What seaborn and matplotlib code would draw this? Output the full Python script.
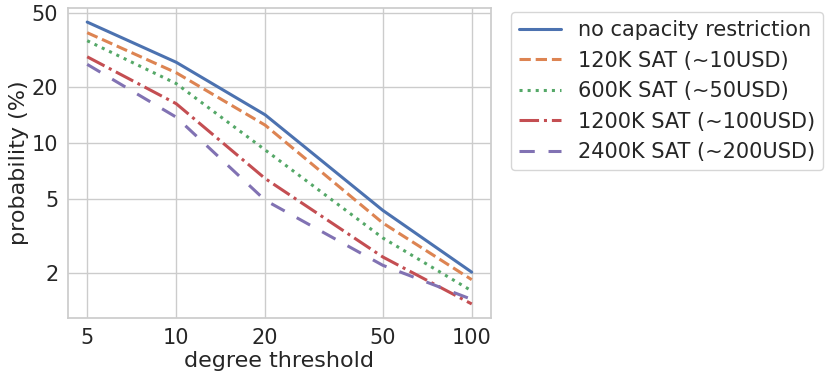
import pandas as pd
import seaborn as sns
import matplotlib.pyplot as plt
from matplotlib.ticker import FixedLocator, NullLocator, FixedFormatter, NullFormatter


# data
thresholds = [5, 10, 20, 50, 100]
no_restriction = [44.7, 27.2, 14.2, 4.36, 2.03]
sat_120k = [39.2, 23.9, 12.5, 3.73, 1.85]
sat_600k = [35.5, 20.9, 9.2, 3.10, 1.61]
sat_1200k = [29.1, 16.3, 6.46, 2.45, 1.37]
sat_2400k = [26.5, 13.8, 4.94, 2.21, 1.45]

labels = [
    "no capacity restriction",
    "120K SAT (~10USD)",
    "600K SAT (~50USD)",
    "1200K SAT (~100USD)",
    "2400K SAT (~200USD)",
]
series = [no_restriction, sat_120k, sat_600k, sat_1200k, sat_2400k]

y_ticks = [2, 5, 10, 20, 50]

# esthetics
sns.set_theme(style="whitegrid", palette="deep")
plt.rcParams["font.family"] = ["DejaVu Sans"]
tick_size = 15
label_size = 16
legend_size = 15

line_dashes = {
    labels[0]: "",
    labels[1]: (3.7, 1.6),
    labels[2]: (1, 1.65),
    labels[3]: (6.4, 1.6, 1, 1.6),
    labels[4]: (5, 4.5),
}

df = pd.DataFrame(
    [(t, v, lab) for lab, vals in zip(labels, series) for t, v in zip(thresholds, vals)],
    columns=["degree threshold", "probability (%)", "Restriction"],
)

fig = plt.figure(figsize=(8.31, 3.8), dpi=100)
ax = fig.add_axes([0.0818, 0.163, 0.509, 0.816])

sns.lineplot(
    data=df,
    x="degree threshold",
    y="probability (%)",
    hue="Restriction",
    style="Restriction",
    dashes=line_dashes,
    linewidth=2.2,
    ax=ax,
)

ax.set_xscale("log")
ax.set_yscale("log")
ax.xaxis.set_major_locator(FixedLocator(thresholds))
ax.xaxis.set_major_formatter(FixedFormatter([str(t) for t in thresholds]))
ax.xaxis.set_minor_locator(NullLocator())
ax.xaxis.set_minor_formatter(NullFormatter())
ax.yaxis.set_major_locator(FixedLocator(y_ticks))
ax.yaxis.set_major_formatter(FixedFormatter([str(t) for t in y_ticks]))
ax.yaxis.set_minor_locator(NullLocator())
ax.yaxis.set_minor_formatter(NullFormatter())

ax.tick_params(labelsize=tick_size, pad=1)
ax.set_xlabel("degree threshold", fontsize=label_size, labelpad=2)
ax.set_ylabel("probability (%)", fontsize=label_size, labelpad=2)

ax.legend(
    title=None,
    loc="upper left",
    bbox_to_anchor=(1.047, 0.987),
    borderaxespad=0,
    fontsize=legend_size,
)

fig.savefig("out.png", dpi=100)
plt.close()
